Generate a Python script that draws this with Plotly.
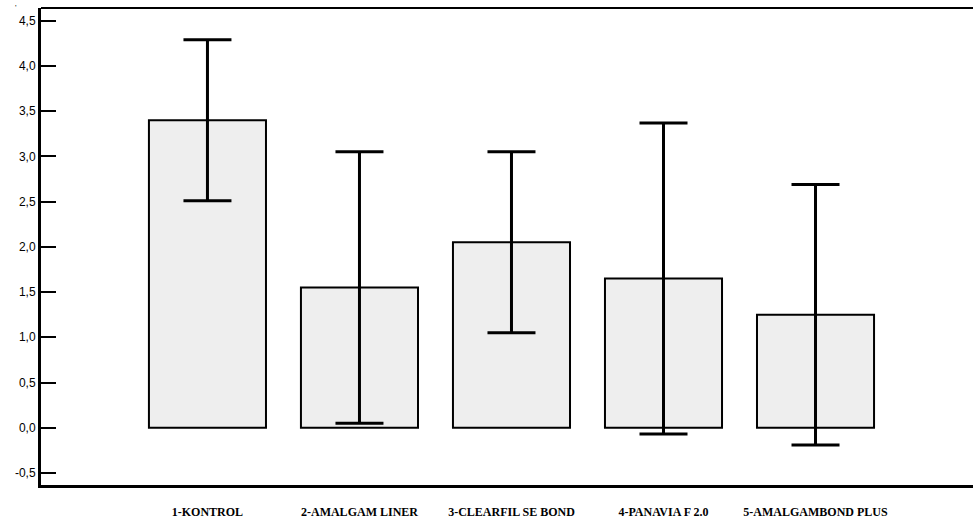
import plotly.graph_objects as go

categories = ["1-KONTROL", "2-AMALGAM LINER", "3-CLEARFIL SE BOND", "4-PANAVIA F 2.0", "5-AMALGAMBOND PLUS"]
means = [3.40, 1.55, 2.05, 1.65, 1.25]
errors = [0.89, 1.50, 1.00, 1.72, 1.44]
ytick_vals = [-0.5, 0.0, 0.5, 1.0, 1.5, 2.0, 2.5, 3.0, 3.5, 4.0, 4.5]
ytick_text = ["-0,5", "0,0", "0,5", "1,0", "1,5", "2,0", "2,5", "3,0", "3,5", "4,0", "4,5"]

fig = go.Figure()
fig.add_trace(go.Bar(
    x=list(range(len(categories))),
    y=means,
    width=0.77,
    marker=dict(color="#eeeeee", line=dict(color="black", width=2)),
    error_y=dict(type="data", array=errors, visible=True, color="black", thickness=3, width=24),
))

fig.update_layout(
    width=973, height=525,
    margin=dict(l=41, r=0, t=8, b=40),
    paper_bgcolor="white", plot_bgcolor="white",
    showlegend=False,
    xaxis=dict(
        range=[-1.095, 5.036],
        tickvals=list(range(len(categories))),
        ticktext=categories,
        ticks="", showgrid=False, zeroline=False,
        showline=True, linecolor="black", linewidth=3,
        tickfont=dict(family="Liberation Serif", size=12, color="black", weight="bold"),
        ticklabelstandoff=14,
    ),
    yaxis=dict(
        range=[-0.633, 4.64],
        tickvals=ytick_vals,
        ticktext=ytick_text,
        ticks="inside", ticklen=15, tickwidth=2, tickcolor="black",
        showgrid=False, zeroline=False,
        showline=True, linecolor="black", linewidth=3,
        tickfont=dict(family="Liberation Sans", size=12, color="black"),
    ),
)
fig.add_shape(type="line", xref="paper", yref="paper", x0=0, x1=1, y0=1, y1=1,
              line=dict(color="black", width=2))
fig.add_annotation(text="'", xref="paper", yref="paper", x=-0.03, y=1.015,
                   showarrow=False, font=dict(size=8, color="black", family="Liberation Sans"))

fig.write_html("out.html", config={"displayModeBar": False},
               post_script="document.body.style.margin='0';document.body.style.overflow='hidden';")
